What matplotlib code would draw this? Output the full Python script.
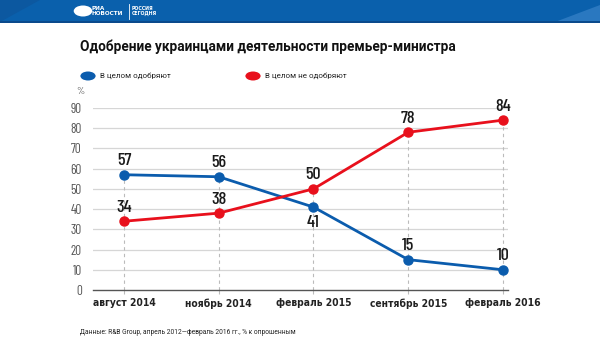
import matplotlib
matplotlib.use("Agg")
import matplotlib.pyplot as plt
from matplotlib.patches import Rectangle, Polygon, Circle
from matplotlib.lines import Line2D

categories = ['август 2014', 'ноябрь 2014', 'февраль 2015', 'сентябрь 2015', 'февраль 2016']
approve = [57, 56, 41, 15, 10]
disapprove = [34, 38, 50, 78, 84]
yticks = [0, 10, 20, 30, 40, 50, 60, 70, 80, 90]
series_names = ['В целом одобряют', 'В целом не одобряют']
title = 'Одобрение украинцами деятельности премьер-министра'
source = 'Данные: R&B Group, апрель 2012—февраль 2016 гг., % к опрошенным'

NUM = ['Barlow Condensed', 'DejaVu Sans']
COND = ['DejaVu Sans']
SANS = ['Roboto', 'DejaVu Sans']

BLUE = '#0b5cad'
RED = '#e8101c'

fig = plt.figure(figsize=(6.0, 3.55), dpi=100)
W, H = 600, 355

def fx(px):
    return px / W

def fy(py):
    return 1 - py / H

# header band
fig.patches.append(Rectangle((0, fy(22)), 1, 22 / H, transform=fig.transFigure,
                             facecolor='#0a60ac', edgecolor='none', zorder=0))
fig.patches.append(Polygon([(0, fy(22)), (fx(40), fy(0)), (0, fy(0))], closed=True,
                           transform=fig.transFigure, facecolor='#0c58a0', edgecolor='none', zorder=1))
fig.patches.append(Polygon([(fx(555), fy(22)), (1, fy(5)), (1, fy(22))], closed=True,
                           transform=fig.transFigure, facecolor='#2a78c0', edgecolor='none', zorder=1))
fig.patches.append(Rectangle((0, fy(23)), 1, 2 / H, transform=fig.transFigure,
                             facecolor='#0a4a8c', edgecolor='none', zorder=2))
# logo
fig.patches.append(Circle((fx(83), fy(11)), 5.5 / H, transform=fig.transFigure,
                          facecolor='white', edgecolor='none', zorder=3))
fig.text(fx(91), fy(11), 'РИА\nНОВОСТИ', color='white', fontsize=4.6, fontweight='bold',
         family=COND, fontstretch='condensed', va='center', ha='left', linespacing=0.95, zorder=4)
fig.lines.append(Line2D([fx(128.5), fx(128.5)], [fy(4), fy(19)], transform=fig.transFigure,
                        color='white', lw=0.6, zorder=4))
fig.text(fx(132), fy(11), 'РОССИЯ\nСЕГОДНЯ', color='white', fontsize=3.8, fontweight='bold',
         family=COND, fontstretch='condensed', va='center', ha='left', linespacing=0.95, zorder=4)

# title
fig.text(fx(80), fy(47), title, fontsize=9.8, fontweight='bold', family=SANS,
         color='#111111', va='center', ha='left')

# legend
fig.patches.append(Circle((fx(88), fy(76)), 4.5 / H, transform=fig.transFigure,
                          facecolor=BLUE, edgecolor='none'))
fig.text(fx(100), fy(76), series_names[0], fontsize=5.8, family=SANS, color='#222222',
         va='center', ha='left')
fig.patches.append(Circle((fx(253), fy(76)), 4.5 / H, transform=fig.transFigure,
                          facecolor=RED, edgecolor='none'))
fig.text(fx(265), fy(76), series_names[1], fontsize=5.8, family=SANS, color='#222222',
         va='center', ha='left')

# axes
ax = fig.add_axes([fx(93), fy(290), (508 - 93) / W, (290 - 108) / H])
x = list(range(len(categories)))
ax.set_xlim(-0.327, len(categories) - 1 + 0.053)
ax.set_ylim(0, 90)
for s in ['top', 'right', 'left']:
    ax.spines[s].set_visible(False)
ax.spines['bottom'].set_color('#555555')
ax.spines['bottom'].set_linewidth(1.0)
ax.set_yticks(yticks)
ax.set_yticklabels([str(v) for v in yticks], family=NUM, fontsize=9.5, color='#555555')
ax.tick_params(axis='y', length=0, pad=8)
ax.set_xticks(x)
ax.set_xticklabels(categories, family=COND, fontstretch='condensed', fontsize=7.4,
                   fontweight='bold', color='#222222')
ax.tick_params(axis='x', length=3, color='#bbbbbb', pad=3)
for v in yticks[1:]:
    ax.axhline(v, color='#d6d6d6', lw=0.9, zorder=1)
for xi, a, d in zip(x, approve, disapprove):
    ax.plot([xi, xi], [0, max(a, d)], color='#bbbbbb', lw=0.8, ls=(0, (3, 3)), zorder=1)

ax.plot(x, approve, color=BLUE, lw=2.0, marker='o', ms=6.5, zorder=3, clip_on=False)
ax.plot(x, disapprove, color=RED, lw=2.0, marker='o', ms=6.5, zorder=4, clip_on=False)

for i, (xi, a, d) in enumerate(zip(x, approve, disapprove)):
    off = -15 if i == 2 else 14
    ax.annotate(str(a), (xi, a), xytext=(0, off), textcoords='offset pixels', ha='center',
                va='center', family=NUM, fontsize=13, fontweight='medium', color='#1a1a1a',
                annotation_clip=False)
    ax.annotate(str(d), (xi, d), xytext=(0, 14), textcoords='offset pixels', ha='center',
                va='center', family=NUM, fontsize=13, fontweight='medium', color='#1a1a1a',
                annotation_clip=False)

fig.text(fx(80), fy(92), '%', family=NUM, fontsize=7.5, color='#555555', va='center', ha='center')

fig.text(fx(80), fy(333), source, fontsize=4.8, family=SANS, color='#222222', va='center', ha='left')

fig.savefig('out.png', dpi=100, facecolor='white')
